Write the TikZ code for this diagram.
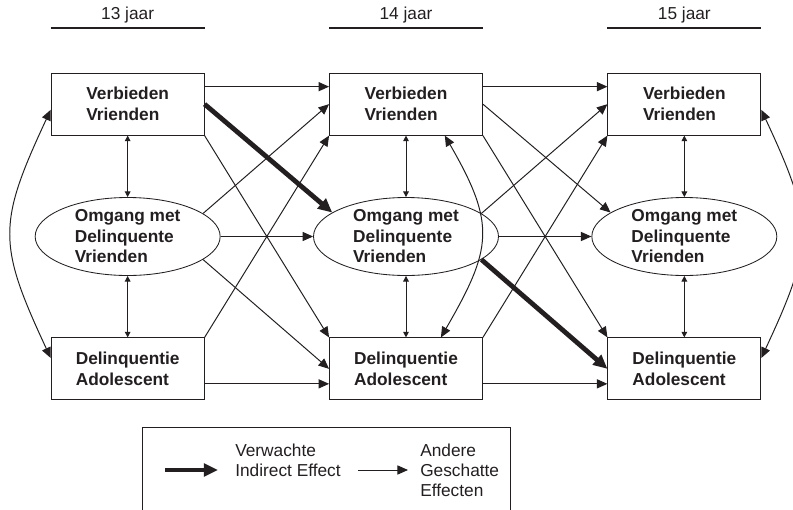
\documentclass[tikz,border=0pt]{standalone}
\usepackage{fontspec}
\setmainfont{Liberation Sans}
\usetikzlibrary{matrix, arrows.meta, shapes.geometric}

\definecolor{ink}{RGB}{35,31,32}

\tikzset{
  varbox/.style = {draw=ink, line width=.6pt, minimum width=3.825cm, minimum height=1.55cm,
    align=left, text=ink, font=\fontsize{12.3}{14.9}\selectfont\bfseries},
  varoval/.style = {draw=ink, ellipse, line width=.6pt, minimum width=4.625cm, minimum height=1.95cm, inner sep=0pt},
  ovaltext/.style = {align=left, text=ink, font=\fontsize{12.3}{14.6}\selectfont\bfseries},
  plain/.style = {text=ink, align=left, inner sep=0pt, font=\fontsize{12.3}{14.2}\selectfont},
  effect/.style = {draw=ink, -{Triangle[length=7.5pt,width=6.5pt]}, line width=.7pt},
  indirect/.style = {draw=ink, -{Triangle[length=10pt,width=9pt]}, line width=3.4pt},
  corrv/.style = {draw=ink, {Triangle[length=4pt,width=4pt]}-{Triangle[length=4pt,width=4pt]}, line width=.7pt},
  covar/.style = {draw=ink, {Triangle[length=7.5pt,width=6.5pt]}-{Triangle[length=7.5pt,width=6.5pt]}, line width=.7pt},
  yearline/.style = {draw=ink, line width=1.4pt}
}

\begin{document}
\begin{tikzpicture}
\useasboundingbox (0,0) rectangle (19.825,-12.725);

\matrix (m) [column sep=2.3125cm, row sep=1.5375cm] at (10.15,-5.9125) {
\node[varbox](v1){Verbieden\\Vrienden}; & \node[varbox](v2){Verbieden\\Vrienden}; & \node[varbox](v3){Verbieden\\Vrienden}; \\
\node[varoval, label={[ovaltext]center:Omgang met\\Delinquente\\Vrienden}](o1){}; &
\node[varoval, label={[ovaltext]center:Omgang met\\Delinquente\\Vrienden}](o2){}; &
\node[varoval, label={[ovaltext]center:Omgang met\\Delinquente\\Vrienden}](o3){}; \\
\node[varbox](d1){Delinquentie\\Adolescent}; & \node[varbox](d2){Delinquentie\\Adolescent}; & \node[varbox](d3){Delinquentie\\Adolescent}; \\
};

% jaren
\node[plain] (h1) at ([yshift=1.45cm]v1.north) {13 jaar};
\node[plain] (h2) at ([yshift=1.45cm]v2.north) {14 jaar};
\node[plain] (h3) at ([yshift=1.45cm]v3.north) {15 jaar};
\draw[yearline] ([yshift=1.125cm]v1.north west) -- ([yshift=1.125cm]v1.north east);
\draw[yearline] ([yshift=1.125cm]v2.north west) -- ([yshift=1.125cm]v2.north east);
\draw[yearline] ([yshift=1.125cm]v3.north west) -- ([yshift=1.125cm]v3.north east);

% stabiliteit
\draw[effect] ([yshift=.4375cm]v1.east) -- ([yshift=.4375cm]v2.west);
\draw[effect] ([yshift=.4375cm]v2.east) -- ([yshift=.4375cm]v3.west);
\draw[effect] (o1.east) -- (o2.west);
\draw[effect] (o2.east) -- (o3.west);
\draw[effect] ([yshift=-.375cm]d1.east) -- ([yshift=-.375cm]d2.west);
\draw[effect] ([yshift=-.375cm]d2.east) -- ([yshift=-.375cm]d3.west);

% kruispaden 13 -> 14
\draw[effect] (v1.south east) -- (d2.north west);
\draw[effect] (o1.17) -- (v2.west);
\draw[effect] (o1.-17) -- (d2.west);
\draw[effect] (d1.north east) -- (v2.south west);
\draw[indirect] (v1.east) -- (o2.162);

% kruispaden 14 -> 15
\draw[effect] (v2.east) -- (o3.162);
\draw[effect] (v2.south east) -- (d3.north west);
\draw[effect] (o2.17) -- (v3.west);
\draw[effect] (d2.north east) -- (v3.south west);
\draw[indirect] (o2.-17) -- (d3.west);

% correlaties
\draw[corrv] (v1.south) -- (o1.north);
\draw[corrv] (o1.south) -- (d1.north);
\draw[corrv] (v2.south) -- (o2.north);
\draw[corrv] (o2.south) -- (d2.north);
\draw[corrv] (v3.south) -- (o3.north);
\draw[corrv] (o3.south) -- (d3.north);
\draw[covar] ([yshift=-.14cm]v1.west) to[out=245, in=115, looseness=1.3] ([yshift=.27cm]d1.west);
\draw[covar] ([yshift=-.14cm]v3.east) to[out=-65, in=65, looseness=1.3] ([yshift=.27cm]d3.east);
\draw[covar] (v2.-39) to[out=-60, in=60, looseness=1.3] (d2.42);

% legenda
\node[draw=ink, line width=.6pt, minimum width=9.2cm, minimum height=2.5cm, anchor=north west] (legend) at (3.55,-10.675) {};
\node[plain, anchor=west] (lt1) at (5.875,-11.5) {Verwachte\\Indirect Effect};
\node[plain, anchor=west] (lt2) at (10.5,-11.75) {Andere\\Geschatte\\Effecten};
\coordinate (la1) at (4.125,-11.75);
\coordinate (lb1) at (5.45,-11.75);
\coordinate (la2) at (8.95,-11.75);
\coordinate (lb2) at (10.2,-11.75);
\draw[indirect] (la1) -- (lb1);
\draw[effect] (la2) -- (lb2);
\end{tikzpicture}
\end{document}
